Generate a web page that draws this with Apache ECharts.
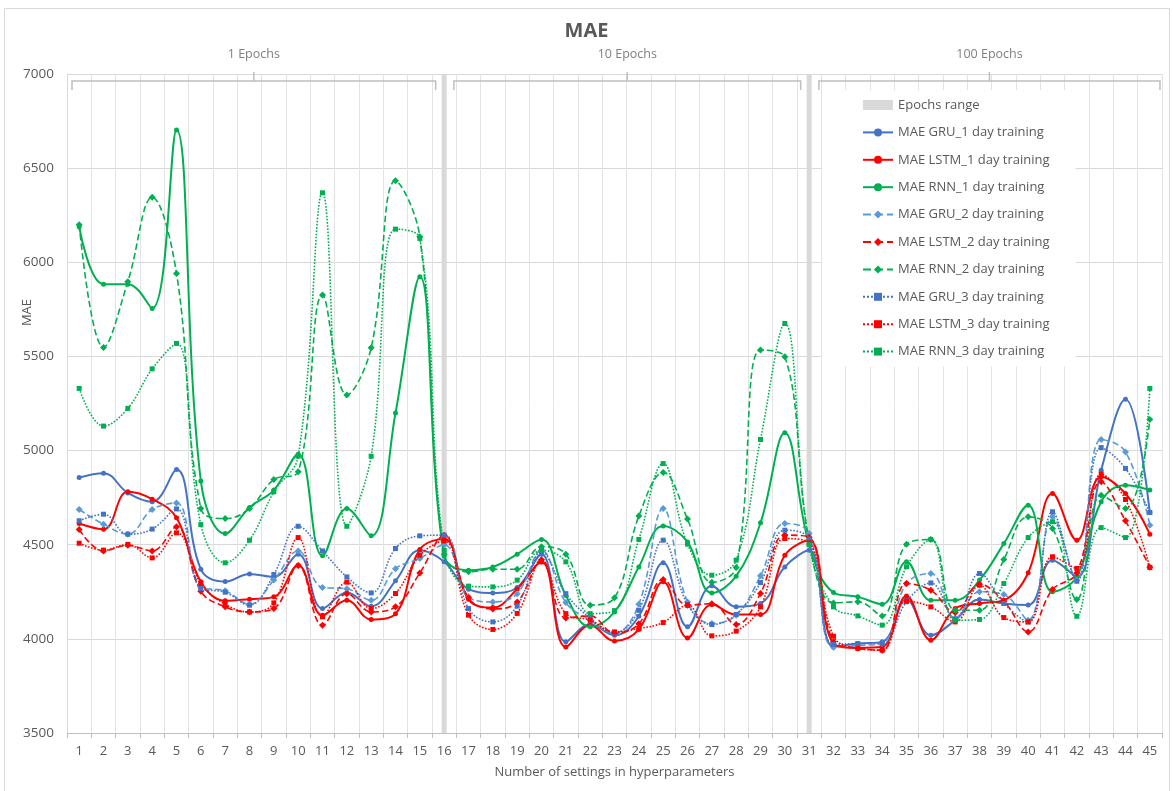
<!DOCTYPE html>
<html>
<head>
<meta charset="utf-8">
<title>MAE</title>
<script src="https://cdn.jsdelivr.net/npm/echarts@6/dist/echarts.min.js"></script>
<style>
  html, body { margin: 0; padding: 0; background: #ffffff; }
  #main { width: 1173px; height: 791px; }
</style>
</head>
<body>
<div id="main"></div>
<script>
// categories (settings of hyperparameters)
var categories = ['1','2','3','4','5','6','7','8','9','10','11','12','13','14','15',
  '16','17','18','19','20','21','22','23','24','25','26','27','28','29','30',
  '31','32','33','34','35','36','37','38','39','40','41','42','43','44','45'];
var yTicks = [3500, 4000, 4500, 5000, 5500, 6000, 6500, 7000];

// epochs separators and groups
var epochMarks = ['16', '31'];
var epochLabels = ['1 Epochs', '10 Epochs', '100 Epochs'];
var epochGroups = [[1, 15], [17, 30], [32, 45]];

// values
var gru1 = [4857,4880,4775,4728,4899,4370,4304,4345,4329,4450,4161,4246,4173,4308,4471,
  4410,4264,4244,4273,4450,3984,4078,4019,4120,4404,4064,4282,4170,4188,4382,
  4470,3957,3975,3984,4210,4019,4099,4209,4188,4180,4418,4330,4896,5273,4671];
var lstm1 = [4613,4582,4781,4742,4643,4303,4202,4211,4223,4391,4126,4205,4103,4134,4475,
  4530,4210,4166,4265,4409,3957,4072,3989,4050,4303,4005,4182,4129,4129,4444,
  4524,3975,3952,3958,4227,3993,4161,4188,4205,4351,4772,4524,4861,4772,4556];
var rnn1 = [6189,5884,5884,5755,6702,4839,4559,4698,4790,4981,4441,4692,4547,5199,5923,
  4440,4365,4382,4450,4528,4230,4064,4143,4382,4600,4515,4244,4333,4616,5094,
  4500,4246,4223,4184,4409,4205,4205,4312,4506,4710,4250,4330,4728,4816,4790];
var gru2 = [4687,4609,4556,4687,4722,4276,4255,4184,4312,4467,4273,4266,4205,4372,4427,
  4500,4223,4196,4240,4470,4193,4100,4030,4184,4692,4196,4081,4126,4335,4613,
  4560,3955,3965,3975,4294,4347,4110,4250,4235,4099,4650,4310,5059,4993,4604];
var lstm2 = [4581,4467,4497,4467,4595,4253,4170,4143,4161,4390,4072,4240,4143,4170,4350,
  4550,4218,4159,4196,4420,4111,4122,4030,4080,4315,4179,4187,4076,4241,4551,
  4540,3985,3950,3940,4294,4258,4140,4290,4200,4037,4262,4350,4834,4627,4380];
var rnn2 = [6200,5548,5897,6345,5941,4692,4639,4692,4846,4887,5826,5295,5546,6433,6136,
  4450,4356,4370,4370,4489,4450,4179,4218,4652,4884,4636,4300,4379,5534,5498,
  4520,4191,4197,4122,4503,4528,4152,4152,4421,4648,4586,4209,4763,4692,5165];
var gru3 = [4627,4662,4556,4583,4690,4267,4248,4179,4342,4598,4467,4329,4244,4480,4547,
  4551,4161,4090,4174,4460,4240,4110,4032,4152,4524,4184,4076,4130,4299,4577,
  4530,3970,3975,3975,4197,4297,4105,4347,4188,4090,4675,4306,5016,4905,4671];
var lstm3 = [4508,4471,4501,4430,4563,4294,4184,4143,4191,4538,4117,4301,4161,4241,4444,
  4520,4126,4050,4135,4409,4134,4099,4037,4055,4087,4179,4016,4041,4170,4533,
  4510,4014,3949,3940,4200,4170,4090,4285,4113,4090,4436,4374,4875,4740,4379];
var rnn3 = [5330,5130,5224,5434,5569,4607,4404,4524,4781,4970,6369,4598,4970,6176,6127,
  4470,4280,4276,4312,4471,4409,4134,4150,4528,4931,4503,4338,4418,5059,5675,
  4500,4170,4122,4073,4383,4528,4099,4103,4294,4538,4622,4120,4591,4538,5330];

var fontName = '"Open Sans", "Noto Sans", sans-serif';
var textGray = '#595959';

function lineSeries(name, data, color, dash, symbol, size){
    return {
        name: name,
        type: 'line',
        data: data,
        smooth: 0.4,
        symbol: symbol,
        symbolSize: size,
        showSymbol: true,
        z: 3,
        lineStyle: { color: color, width: dash == 'solid' ? 2 : 1.6, type: dash },
        itemStyle: { color: color }
    };
}

// brackets above each epochs group
function renderBracket(params, api){
    var bw = api.size([1, 0])[0];
    var grid = params.coordSys;
    var p0 = api.coord([api.value(0), api.value(2)]);
    var p1 = api.coord([api.value(1), api.value(2)]);
    var left = Math.max(p0[0] - 0.6 * bw, grid.x + 5);
    var right = Math.min(p1[0] + 0.65 * bw, grid.x + grid.width - 2);
    var y = p0[1] + 7;
    var mid = (left + right) / 2;
    var st = { stroke: '#bfbfbf', lineWidth: 1.5, fill: null };
    return {
        type: 'group',
        children: [
            { type: 'polyline', shape: { points: [[left, y + 9], [left, y], [right, y], [right, y + 9]] }, style: st },
            { type: 'line', shape: { x1: mid, y1: y, x2: mid, y2: y - 9 }, style: st },
            { type: 'text', x: mid, y: y - 27,
              style: { text: epochLabels[params.dataIndex], fill: '#7f7f7f', fontSize: 12.5,
                       fontFamily: fontName, align: 'center', verticalAlign: 'middle' } }
        ]
    };
}

function loadChart(){
    var chart = echarts.init(document.getElementById('main'));
    var yMin = yTicks[0], yMax = yTicks[yTicks.length - 1];

    var rangeData = categories.map(function(c){
        return epochMarks.indexOf(c) >= 0 ? yMax : '-';
    });
    var bracketData = epochGroups.map(function(g){
        return [categories.indexOf(String(g[0])), categories.indexOf(String(g[1])), yMax];
    });

    var option = {
        backgroundColor: '#ffffff',
        textStyle: { fontFamily: fontName },
        title: {
            text: 'MAE',
            left: 'center',
            top: 16,
            textStyle: { fontSize: 20, fontWeight: 'bold', color: textGray, fontFamily: fontName }
        },
        graphic: [{
            type: 'rect',
            shape: { x: 4.5, y: 8.5, width: 1165, height: 790 },
            style: { fill: null, stroke: '#d9d9d9', lineWidth: 1 },
            silent: true
        }],
        legend: {
            orient: 'vertical',
            left: 822,
            top: 90,
            padding: [8, 26, 8, 40],
            backgroundColor: '#ffffff',
            itemWidth: 30,
            itemHeight: 10,
            itemGap: 13.4,
            textStyle: { fontSize: 13, color: textGray, fontFamily: fontName, lineHeight: 14 },
            data: [
                { name: 'Epochs range', icon: 'rect', itemStyle: { color: '#d9d9d9' } },
                'MAE GRU_1 day training', 'MAE LSTM_1 day training', 'MAE RNN_1 day training',
                'MAE GRU_2 day training', 'MAE LSTM_2 day training', 'MAE RNN_2 day training',
                'MAE GRU_3 day training', 'MAE LSTM_3 day training', 'MAE RNN_3 day training'
            ]
        },
        grid: { left: 67, right: 11, top: 74, bottom: 58 },
        xAxis: {
            type: 'category',
            data: categories,
            name: 'Number of settings in hyperparameters',
            nameLocation: 'middle',
            nameGap: 33,
            nameTextStyle: { fontSize: 13, color: textGray },
            axisLine: { lineStyle: { color: '#bfbfbf' } },
            axisTick: { show: true, length: 5, lineStyle: { color: '#bfbfbf' } },
            axisLabel: { fontSize: 13, color: textGray, margin: 12, interval: 0 },
            splitLine: { show: true, lineStyle: { color: '#e3e3e3' } }
        },
        yAxis: {
            type: 'value',
            min: yMin,
            max: yMax,
            interval: 500,
            name: 'MAE',
            nameLocation: 'middle',
            nameGap: 33,
            nameMoveOverlap: false,
            nameTextStyle: { fontSize: 13, color: textGray, padding: [0, 0, 0, 182] },
            axisLine: { show: true, lineStyle: { color: '#d9d9d9' } },
            axisTick: { show: false },
            axisLabel: { fontSize: 13.5, color: textGray, margin: 13, formatter: function(v){ return String(v); } },
            splitLine: { lineStyle: { color: '#d9d9d9' } }
        },
        series: [
            {
                name: 'Epochs range',
                type: 'bar',
                data: rangeData,
                barWidth: 5,
                z: 1,
                itemStyle: { color: '#d9d9d9' }
            },
            lineSeries('MAE GRU_1 day training', gru1, '#4472C4', 'solid', 'circle', 5),
            lineSeries('MAE LSTM_1 day training', lstm1, '#FF0000', 'solid', 'circle', 5),
            lineSeries('MAE RNN_1 day training', rnn1, '#00B050', 'solid', 'circle', 5),
            lineSeries('MAE GRU_2 day training', gru2, '#5B9BD5', 'dashed', 'diamond', 7),
            lineSeries('MAE LSTM_2 day training', lstm2, '#FF0000', 'dashed', 'diamond', 7),
            lineSeries('MAE RNN_2 day training', rnn2, '#00B050', 'dashed', 'diamond', 7),
            lineSeries('MAE GRU_3 day training', gru3, '#4472C4', 'dotted', 'rect', 5),
            lineSeries('MAE LSTM_3 day training', lstm3, '#FF0000', 'dotted', 'rect', 5),
            lineSeries('MAE RNN_3 day training', rnn3, '#00B050', 'dotted', 'rect', 5),
            {
                name: 'brackets',
                type: 'custom',
                data: bracketData,
                encode: { x: [0, 1], y: 2 },
                clip: false,
                silent: true,
                z: 5,
                renderItem: renderBracket
            }
        ]
    };
    chart.setOption(option);
}

loadChart();
</script>
</body>
</html>
